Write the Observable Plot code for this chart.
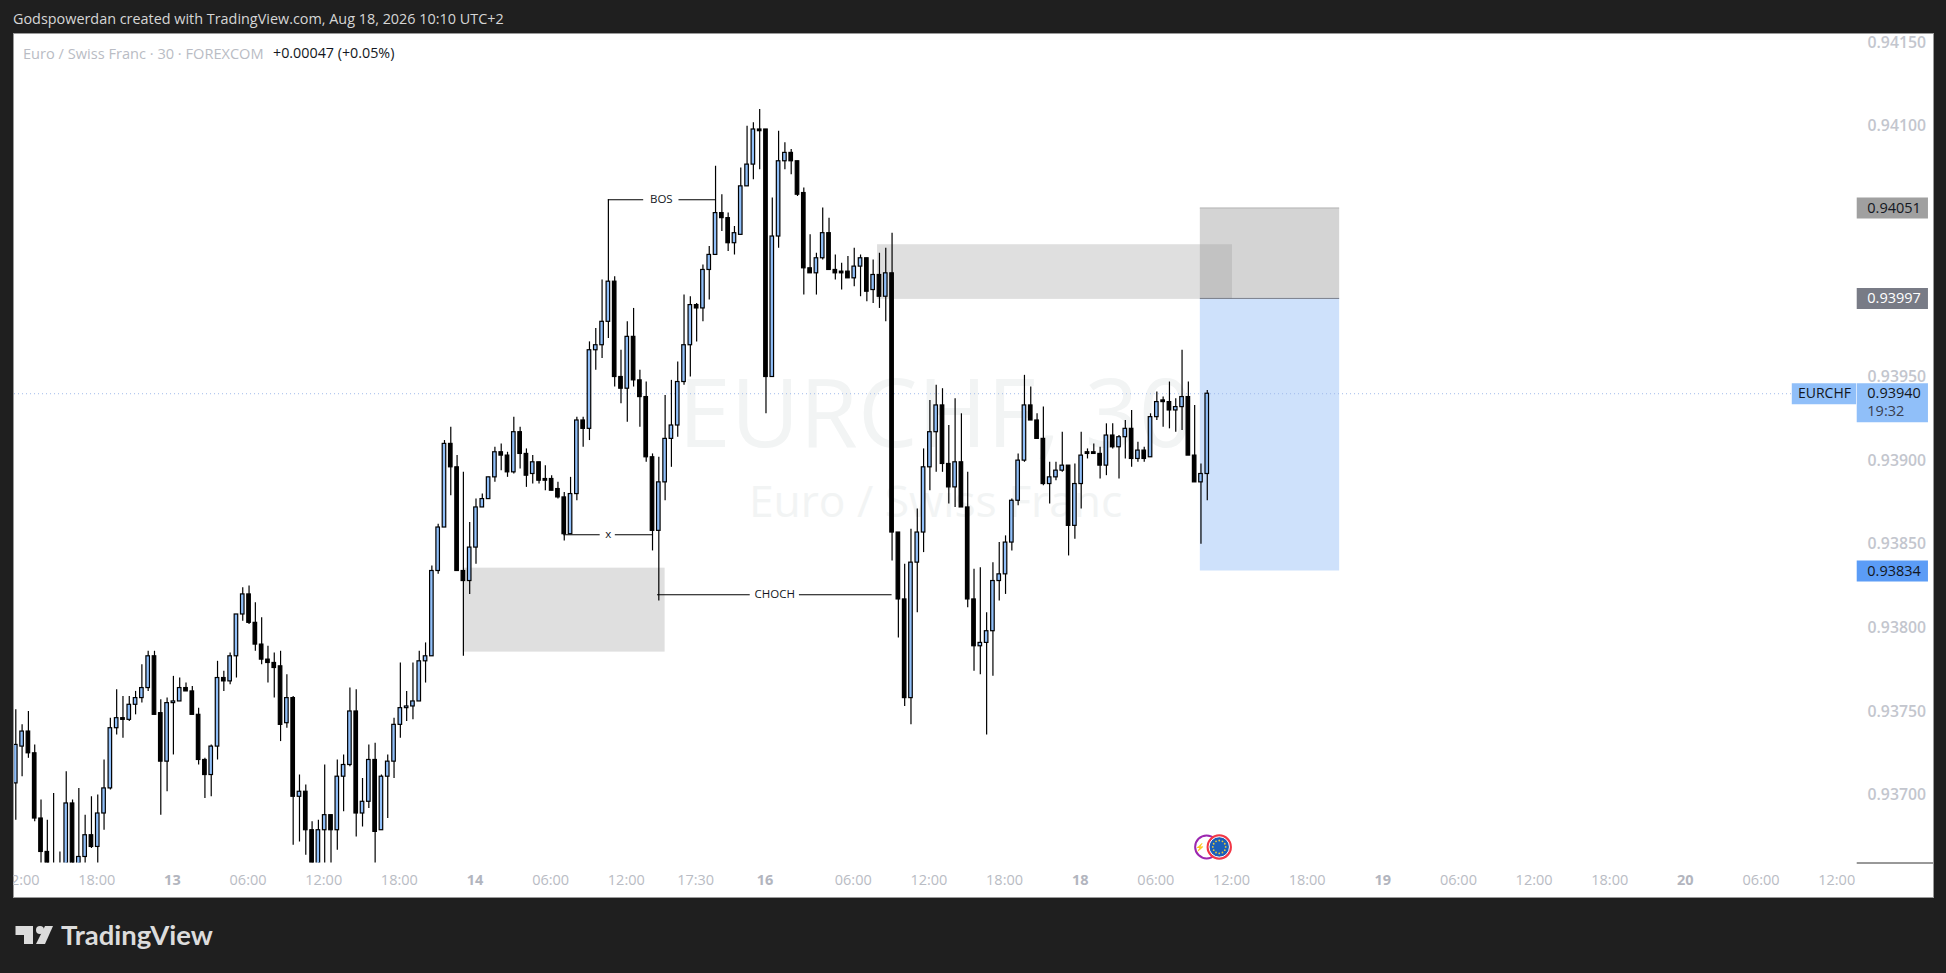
<!DOCTYPE html>
<html lang="en">
<head>
<meta charset="utf-8">
<title>EURCHF 30</title>
<script src="https://cdn.jsdelivr.net/npm/d3@7"></script>
<script src="https://cdn.jsdelivr.net/npm/@observablehq/plot@0.6"></script>
<style>
  html,body{margin:0;padding:0;background:#1f1f1f;width:1946px;height:973px;overflow:hidden}
  #wrap{position:relative;width:1946px;height:973px;font-family:"Open Sans",sans-serif}
  #pane{position:absolute;left:13px;top:33px;width:1919px;height:863px;background:#fff;border:1px solid #9a9a9a}
  #chart{position:absolute;left:0;top:0}
  #strip{position:absolute;left:0;top:33px;width:13px;height:865px;background:#1f1f1f}
  .hdr{position:absolute;white-space:nowrap}
</style>
</head>
<body>
<div id="wrap">
  <div id="pane"></div>
  <div id="chart"></div>
  <div id="strip"></div>
  <div class="hdr" style="left:13px;top:9px;color:#d6d6d6;font-size:14.4px">Godspowerdan created with TradingView.com, Aug 18, 2026 10:10 UTC+2</div>
  <div class="hdr" style="left:23px;top:43px;color:#b9bcc4;font-size:14.6px">Euro / Swiss Franc · 30 · FOREXCOM</div>
  <div class="hdr" style="left:273px;top:43px;color:#131722;font-size:14.3px">+0.00047 (+0.05%)</div>
  <svg class="hdr" style="left:15px;top:925px" width="40" height="20" viewBox="0 0 40 20"><path fill="#dcdcdc" d="M0.5 1H18V19H9V10H0.5Z"/><circle fill="#dcdcdc" cx="25" cy="5" r="4"/><path fill="#dcdcdc" d="M30 1H38L30 19H21Z"/></svg>
  <div class="hdr" style="left:61px;top:918px;color:#dcdcdc;font-family:Lato,sans-serif;font-weight:700;font-size:27.5px">TradingView</div>
</div>
<script>
// Prices in units of 0.00001 CHF, one entry per 30-minute bar.
const open = [93707,93729,93738,93725,93686,93666,93655,93650,93650,93695,
93650,93663,93676,93669,93689,93704,93740,93746,93745,93754,
93758,93764,93783,93749,93720,93755,93756,93764,93762,93748,
93721,93712,93729,93770,93768,93783,93808,93820,93803,93790,
93781,93779,93777,93743,93758,93699,93702,93679,93650,93679,
93688,93679,93711,93718,93750,93689,93696,93721,93679,93711,
93720,93742,93752,93753,93756,93780,93783,93834,93860,93910,
93896,93834,93828,93848,93872,93877,93890,93905,93903,93893,
93917,93904,93892,93899,93889,93889,93883,93878,93856,93880,
93924,93919,93966,93969,93983,94007,93950,93943,93974,93948,
93938,93902,93858,93887,93913,93921,93947,93969,93993,93991,
94014,94023,94048,94045,94030,94035,94064,94077,94098,94098,
93950,94034,94079,94084,94079,94060,94015,94012,94021,94036,
94014,94013,94013,94009,94016,94021,94002,94011,93998,94012,
93857,93817,93758,93839,93857,93896,93917,93933,93898,93884,
93899,93872,93817,93789,93791,93798,93828,93832,93851,93876,
93900,93933,93924,93913,93886,93890,93894,93897,93861,93886,
93905,93905,93904,93897,93915,93908,93914,93919,93901,93906,
93902,93926,93936,93935,93930,93932,93938,93903,93887,93892];
const high = [93751,93742,93750,93730,93697,93685,93701,93666,93714,93697,
93704,93688,93699,93700,93721,93746,93763,93759,93759,93762,
93778,93786,93786,93757,93758,93771,93770,93767,93765,93752,
93722,93730,93780,93774,93785,93808,93824,93825,93815,93806,
93789,93785,93786,93772,93759,93712,93706,93684,93685,93718,
93688,93721,93724,93764,93763,93710,93730,93731,93712,93724,
93746,93779,93762,93779,93786,93791,93837,93862,93912,93920,
93903,93893,93863,93877,93880,93890,93908,93910,93905,93926,
93920,93907,93903,93899,93897,93891,93887,93881,93890,93926,
93926,93971,93979,94008,94056,94010,93966,93983,93991,93954,
93947,93904,93902,93939,93948,93959,93999,93998,93994,94017,
94028,94076,94059,94048,94040,94075,94100,94102,94110,94098,
94057,94097,94090,94086,94079,94063,94035,94024,94051,94045,
94023,94018,94022,94027,94023,94021,94020,94024,94027,94036,
93857,93838,93859,93871,93907,93936,93945,93943,93921,93937,
93928,93893,93835,93836,93809,93839,93851,93855,93877,93904,
93951,93944,93928,93932,93899,93899,93917,93897,93898,93917,
93907,93910,93908,93922,93922,93915,93924,93930,93911,93908,
93928,93941,93938,93947,93937,93966,93947,93933,93898,93942];
const low = [93685,93711,93722,93684,93655,93645,93640,93645,93645,93645,
93645,93659,93668,93650,93679,93703,93736,93734,93744,93748,
93755,93762,93748,93688,93702,93724,93756,93762,93748,93718,
93698,93699,93721,93762,93766,93770,93804,93802,93786,93778,
93767,93758,93732,93740,93670,93672,93664,93645,93645,93659,
93655,93667,93690,93717,93675,93681,93692,93655,93679,93686,
93710,93734,93744,93745,93756,93767,93783,93832,93860,93879,
93834,93783,93820,93838,93872,93877,93887,93894,93890,93892,
93895,93884,93886,93886,93882,93882,93877,93852,93856,93876,
93908,93912,93954,93961,93973,93944,93934,93923,93944,93920,
93899,93846,93816,93876,93896,93914,93945,93950,93971,93983,
93996,94023,94037,94025,94023,94035,94064,94068,94074,93928,
93950,94027,94074,94071,94058,93999,94012,93999,94020,94014,
94008,94002,94009,94004,93998,93995,93994,93991,93983,93840,
93794,93753,93742,93809,93845,93882,93893,93893,93874,93872,
93872,93812,93774,93772,93736,93771,93816,93820,93846,93873,
93899,93924,93913,93885,93874,93888,93893,93843,93853,93871,
93901,93904,93889,93891,93907,93889,93901,93896,93899,93899,
93902,93924,93920,93919,93917,93918,93903,93887,93850,93876];
const close = [93730,93738,93725,93686,93666,93650,93645,93655,93695,93650,
93663,93676,93669,93689,93704,93740,93746,93745,93754,93758,
93764,93783,93748,93720,93755,93756,93764,93762,93748,93721,
93712,93729,93770,93768,93783,93808,93820,93803,93790,93781,
93779,93776,93742,93758,93699,93702,93679,93650,93679,93688,
93679,93711,93718,93750,93689,93696,93721,93678,93711,93720,
93742,93752,93753,93756,93780,93783,93834,93860,93910,93896,
93834,93828,93848,93872,93877,93890,93905,93903,93893,93917,
93904,93891,93899,93888,93888,93882,93878,93856,93880,93924,
93919,93966,93969,93983,94007,93950,93943,93974,93948,93938,
93902,93858,93887,93913,93921,93947,93969,93993,93991,94014,
94023,94048,94045,94030,94036,94064,94077,94098,94097,93950,
94034,94079,94084,94079,94059,94015,94012,94021,94036,94014,
94012,94012,94009,94016,94021,94001,94011,93998,94012,93857,
93817,93758,93839,93857,93896,93917,93933,93898,93884,93899,
93872,93817,93789,93791,93798,93828,93832,93851,93876,93900,
93933,93924,93913,93886,93890,93894,93897,93861,93886,93903,
93904,93904,93897,93915,93908,93914,93919,93901,93906,93901,
93926,93935,93935,93930,93932,93938,93903,93887,93892,93940];

// Time axis: bar index of each label
const timeIdx = [1,13,37,49,61,85,97,108,133,145,157,181,193,205,229,241,253,277,289];
const timeTxt = ["12:00","18:00","06:00","12:00","18:00","06:00","12:00","17:30","06:00","12:00","18:00","06:00","12:00","18:00","06:00","12:00","18:00","06:00","12:00"];
const dayIdx = [25,73,119,169,217,265];
const dayTxt = ["13","14","16","18","19","20"];
const priceTicks = [0.937,0.9375,0.938,0.9385,0.939,0.9395,0.941,0.9415];

const lastPrice = 0.9394, targetPrice = 0.94051, entryPrice = 0.93997, stopPrice = 0.93834;

// Drawn zones: [first bar, last bar, low price, high price]
const demandZone = [71, 103, 0.937855, 0.938357];
const supplyZone = [136.7, 193, 0.939964, 0.940291];
const tradeBars = [187.9, 210];

// Structure labels
const notes = [
  {t:"BOS",   mid:102.4, y:0.94056,  a:[94,99.6],    b:[105.2,111]},
  {t:"x",     mid:94,    y:0.938557, a:[86.9,92.7],  b:[95.1,101]},
  {t:"CHOCH", mid:120.4, y:0.938198, a:[101.8,116.5],b:[124.3,139]}
];

const bars = open.map((o,i)=>({i,o:o/1e5,h:high[i]/1e5,l:low[i]/1e5,c:close[i]/1e5}));
const up = "#90bff9";
const scaleX0 = 292.1, scaleX1 = 303.4; // bar-index span of the price-scale column
const nameX0 = 281.8, nameX1 = 292;

const tags = [
  {p:targetPrice, t:"0.94051", bg:"#a0a0a0", fg:"#131722"},
  {p:entryPrice,  t:"0.93997", bg:"#787b86", fg:"#ffffff"},
  {p:stopPrice,   t:"0.93834", bg:"#5b9cf6", fg:"#131722"}
];

// EU flag stars in the event badge
const badge = {x:190.9, y:0.93669};
const stars = d3.range(12).map(k=>({x:badge.x+1.02*Math.cos(k*Math.PI/6), y:badge.y+0.0000385*Math.sin(k*Math.PI/6)}));

const font = "'Open Sans',sans-serif";

const chart = Plot.plot({
  width:1946, height:973,
  marginLeft:14, marginRight:13, marginTop:34, marginBottom:110.5,
  x:{domain:[-0.206,304.2]},
  y:{domain:[0.936594,0.941548]},
  style:{background:"transparent",overflow:"visible",fontFamily:font},
  marks:[
    // watermark
    Plot.text(["EURCHF, 30"],{x:[145.9],y:[0.93926],text:d=>d,fontSize:94.5,fill:"#f2f4f4",fontFamily:font}),
    Plot.text(["Euro / Swiss Franc"],{x:[145.9],y:[0.93875],text:d=>d,fontSize:44.3,fill:"#f2f4f4",fontFamily:font}),
    // zones
    Plot.rect([demandZone],{x1:d=>d[0],x2:d=>d[1],y1:d=>d[2],y2:d=>d[3],fill:"#dfdfdf"}),
    Plot.rect([0],{x1:tradeBars[0],x2:tradeBars[1],y1:entryPrice,y2:targetPrice,fill:"#d4d4d4"}),
    Plot.rect([0],{x1:tradeBars[0],x2:tradeBars[1],y1:stopPrice,y2:entryPrice,fill:"#cee1fb"}),
    Plot.rect([supplyZone],{x1:d=>d[0],x2:d=>d[1],y1:d=>d[2],y2:d=>d[3],fill:"#9c9c9c",fillOpacity:0.326}),
    Plot.ruleY([targetPrice],{x1:tradeBars[0],x2:tradeBars[1],stroke:"#b8b8b8",strokeWidth:1}),
    Plot.ruleY([entryPrice],{x1:tradeBars[0],x2:tradeBars[1],stroke:"#787b86",strokeWidth:1}),
    // last price line
    Plot.ruleY([lastPrice],{x1:-0.2,x2:nameX0,stroke:"#9fb9ea",strokeWidth:1,strokeDasharray:"1 3"}),
    // candles
    Plot.ruleX(bars,{x:"i",y1:"l",y2:"h",stroke:"#000",strokeWidth:1.2,clip:"frame"}),
    Plot.rect(bars,{x1:d=>d.i-0.28,x2:d=>d.i+0.28,y1:"o",y2:"c",fill:d=>d.c>=d.o?up:"#000",stroke:"#000",strokeWidth:1.2,clip:"frame"}),
    // annotations
    Plot.ruleY(notes,{y:"y",x1:d=>d.a[0],x2:d=>d.a[1],stroke:"#000",strokeWidth:1.1}),
    Plot.ruleY(notes,{y:"y",x1:d=>d.b[0],x2:d=>d.b[1],stroke:"#000",strokeWidth:1.1}),
    Plot.text(notes,{x:"mid",y:"y",text:"t",fontSize:11.5,fill:"#131722",fontFamily:font}),
    // event badges
    Plot.dot([0],{x:188.9,y:badge.y,r:11.5,fill:"#fff",stroke:"#9c27b0",strokeWidth:2}),
    Plot.text(["⚡"],{x:[187.9],y:[badge.y],text:d=>d,fontSize:8,fill:"#9c27b0"}),
    Plot.dot([0],{x:badge.x,y:badge.y,r:11.5,fill:"#1b5fb8",stroke:"#f23645",strokeWidth:2.4}),
    Plot.dot([0],{x:badge.x,y:badge.y,r:10.2,fill:"none",stroke:"#fff",strokeWidth:1}),
    Plot.dot(stars,{x:"x",y:"y",r:0.9,fill:"#e9c93a"}),
    // axes
    Plot.axisX({ticks:timeIdx,tickFormat:d=>timeTxt[timeIdx.indexOf(d)],tickSize:0,tickPadding:12,dx:-1,fontSize:14.5,fill:"#b9bcc4",label:null,fontFamily:font}),
    Plot.axisX({ticks:dayIdx,tickFormat:d=>dayTxt[dayIdx.indexOf(d)],tickSize:0,tickPadding:12,dx:-1,fontSize:14.5,fontWeight:700,fill:"#b2b5be",label:null,fontFamily:font}),
    Plot.axisY({anchor:"right",ticks:priceTicks,tickFormat:d3.format(".5f"),tickSize:0,tickPadding:-66,fontSize:15.8,fontWeight:600,fill:"#c3c6ce",label:null,fontFamily:font}),
    Plot.ruleY([0.936594],{x1:scaleX0,x2:304.2,stroke:"#333",strokeWidth:1}),
    // price tags
    Plot.ruleY(tags,{y:"p",x1:scaleX0,x2:scaleX1,stroke:"bg",strokeWidth:21}),
    Plot.text(tags,{y:"p",x:scaleX0+1.6,text:"t",fill:"fg",fontSize:14.5,textAnchor:"start",fontFamily:font}),
    Plot.ruleY([lastPrice],{x1:scaleX0,x2:scaleX1,stroke:up,strokeWidth:39,dy:9}),
    Plot.text(["0.93940"],{y:[lastPrice],x:[scaleX0+1.6],text:d=>d,fill:"#131722",fontSize:14.5,textAnchor:"start",fontFamily:font}),
    Plot.text(["19:32"],{y:[lastPrice],x:[scaleX0+1.6],dy:18,text:d=>d,fill:"#3a4050",fontSize:14.5,textAnchor:"start",fontFamily:font}),
    Plot.ruleY([lastPrice],{x1:nameX0,x2:nameX1,stroke:up,strokeWidth:21}),
    Plot.text(["EURCHF"],{y:[lastPrice],x:[(nameX0+nameX1)/2],text:d=>d,fill:"#131722",fontSize:14,fontFamily:font})
  ]
});
document.getElementById("chart").appendChild(chart);
</script>
</body>
</html>
